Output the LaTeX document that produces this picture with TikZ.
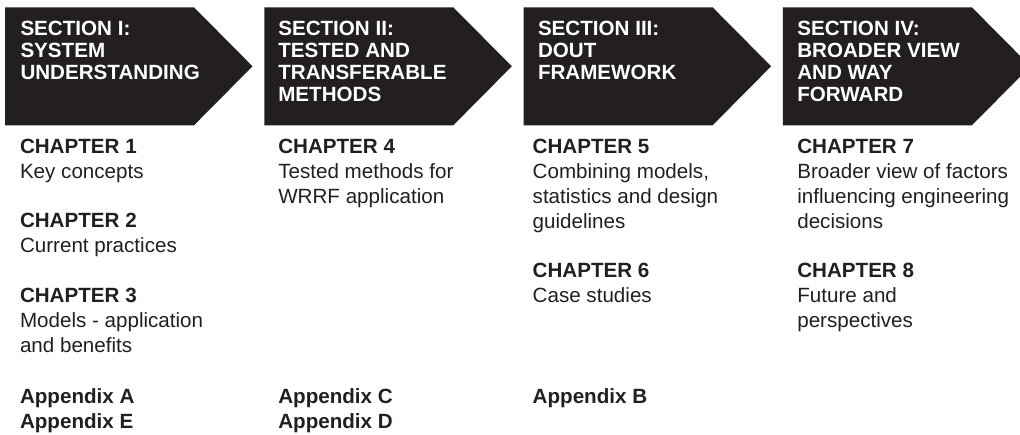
\documentclass[tikz,border=0pt]{standalone}
\usepackage{fontspec}
\setmainfont{Liberation Sans}
\definecolor{ink}{HTML}{231F20}
\begin{document}
\begin{tikzpicture}[x=1pt,y=-1pt,
  chev/.style={fill=ink,draw=none},
  sectxt/.style={anchor=north west,inner sep=0pt,outer sep=0pt,align=left,text=white,
    font=\fontsize{20.6}{22.2}\selectfont\bfseries},
  chtxt/.style={anchor=north west,inner sep=0pt,outer sep=0pt,align=left,text=ink,
    font=\fontsize{20.6}{25}\selectfont}]
\useasboundingbox (0,0) rectangle (1020,434);
\begin{scope}
\clip (0,0) rectangle (1020,434);
\foreach \i/\x in {1/5,2/264.3,3/523.6,4/782.9}{
  \fill[chev] (\x,7.3) -- (\x+189,7.3) -- (\x+247.5,66.3) -- (\x+189,125.3) -- (\x,125.3) -- cycle;
}
\end{scope}
% section headers
\node[sectxt] (s1) at (20.5,20.7) {SECTION I:\\SYSTEM\\UNDERSTANDING};
\node[sectxt] (s2) at (278.3,20.7) {SECTION II:\\TESTED AND\\TRANSFERABLE\\METHODS};
\node[sectxt] (s3) at (538,20.7) {SECTION III:\\DOUT\\FRAMEWORK};
\node[sectxt] (s4) at (797.3,20.7) {SECTION IV:\\BROADER VIEW\\AND WAY\\FORWARD};
% column 1
\node[chtxt] (c1) at (20,139.3) {\textbf{CHAPTER 1}\\Key concepts};
\node[chtxt] (c2) at (20,213.3) {\textbf{CHAPTER 2}\\Current practices};
\node[chtxt] (c3) at (20,288.3) {\textbf{CHAPTER 3}\\Models - application\\and benefits};
\node[chtxt] (aAE) at (20,388.3) {\textbf{Appendix A}\\\textbf{Appendix E}};
% column 2
\node[chtxt] (c4) at (278.3,139.3) {\textbf{CHAPTER 4}\\Tested methods for\\WRRF application};
\node[chtxt] (aCD) at (278.3,388.3) {\textbf{Appendix C}\\\textbf{Appendix D}};
% column 3
\node[chtxt] (c5) at (532.7,139.3) {\textbf{CHAPTER 5}\\Combining models,\\statistics and design\\guidelines};
\node[chtxt] (c6) at (532.7,263.3) {\textbf{CHAPTER 6}\\Case studies};
\node[chtxt] (aB) at (532.7,388.3) {\textbf{Appendix B}};
% column 4
\node[chtxt] (c7) at (797.3,139.3) {\textbf{CHAPTER 7}\\Broader view of factors\\influencing engineering\\decisions};
\node[chtxt] (c8) at (797.3,263.3) {\textbf{CHAPTER 8}\\Future and\\perspectives};
\end{tikzpicture}
\end{document}
